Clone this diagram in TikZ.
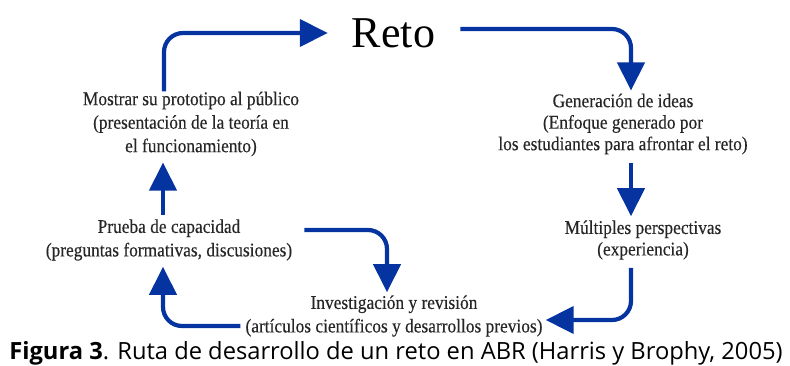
\documentclass[tikz,border=0pt]{standalone}
\usepackage{fontspec}
\setmainfont{Liberation Serif}
\newfontfamily\bodyf[FakeStretch=0.895,FakeBold=0.3]{Liberation Serif}
\newfontfamily\capf{Open Sans}
\usetikzlibrary{arrows.meta}
\definecolor{arrblue}{RGB}{5,52,160}
\tikzset{
  txt/.style={inner sep=0pt, align=center, text=black!85, font=\bodyf\fontsize{19.4}{23.5}\selectfont},
  txtb/.style={txt, font=\bodyf\fontsize{19.4}{21.5}\selectfont},
  arr/.style={draw=arrblue, line width=4.2pt, rounded corners=19pt,
    -{Triangle[length=28pt,width=27pt]}}
}
\begin{document}
\begin{tikzpicture}[x=1pt,y=-1pt]
\useasboundingbox (0,0) rectangle (790,365);
\node[inner sep=0pt, font=\fontsize{44}{50}\selectfont, text=black] (reto) at (393.5,33) {Reto};
\node[txt] (mostrar) at (191,124) {Mostrar su prototipo al público\\(presentación de la teoría en\\el funcionamiento)};
\node[txtb] (gen) at (623,124) {Generación de ideas\\(Enfoque generado por\\los estudiantes para afrontar el reto)};
\node[txtb] (mult) at (643,240) {Múltiples perspectivas\\(experiencia)};
\node[txt] (prueba) at (169,240) {Prueba de capacidad\\(preguntas formativas, discusiones)};
\node[txt] (inv) at (394,316) {Investigación y revisión\\(artículos científicos y desarrollos previos)};
\node[inner sep=0pt, font=\capf\fontsize{23.7}{28}\selectfont, text=black] (cap) at (396,353)
  {\textbf{Figura 3}. Ruta de desarrollo de un reto en ABR (Harris y Brophy, 2005)};

\draw[arr] ([xshift=-27pt]mostrar.north) |- ([xshift=-24pt]reto.west);
\draw[arr] ([xshift=25pt,yshift=4pt]reto.east) -| ([xshift=8pt,yshift=3pt]gen.north);
\draw[arr, shorten <=8pt] ([xshift=8pt]gen.south) -- ([xshift=8pt,yshift=4pt]gen.south |- mult.north);
\draw[arr, shorten <=8pt] ([xshift=-12pt]mult.south) |- ([xshift=3pt,yshift=-4pt]inv.east);
\draw[arr] ([xshift=-5pt,yshift=-10pt]inv.west) -| ([xshift=-6pt,yshift=-6pt]prueba.south);
\draw[arr] ([xshift=12pt,yshift=10pt]prueba.east) -| ([xshift=-7pt,yshift=3pt]inv.north);
\draw[arr, shorten <=4pt] ([xshift=-6pt]prueba.north) -- ([xshift=-6pt,yshift=-6pt]prueba.north |- mostrar.south);
\end{tikzpicture}
\end{document}
